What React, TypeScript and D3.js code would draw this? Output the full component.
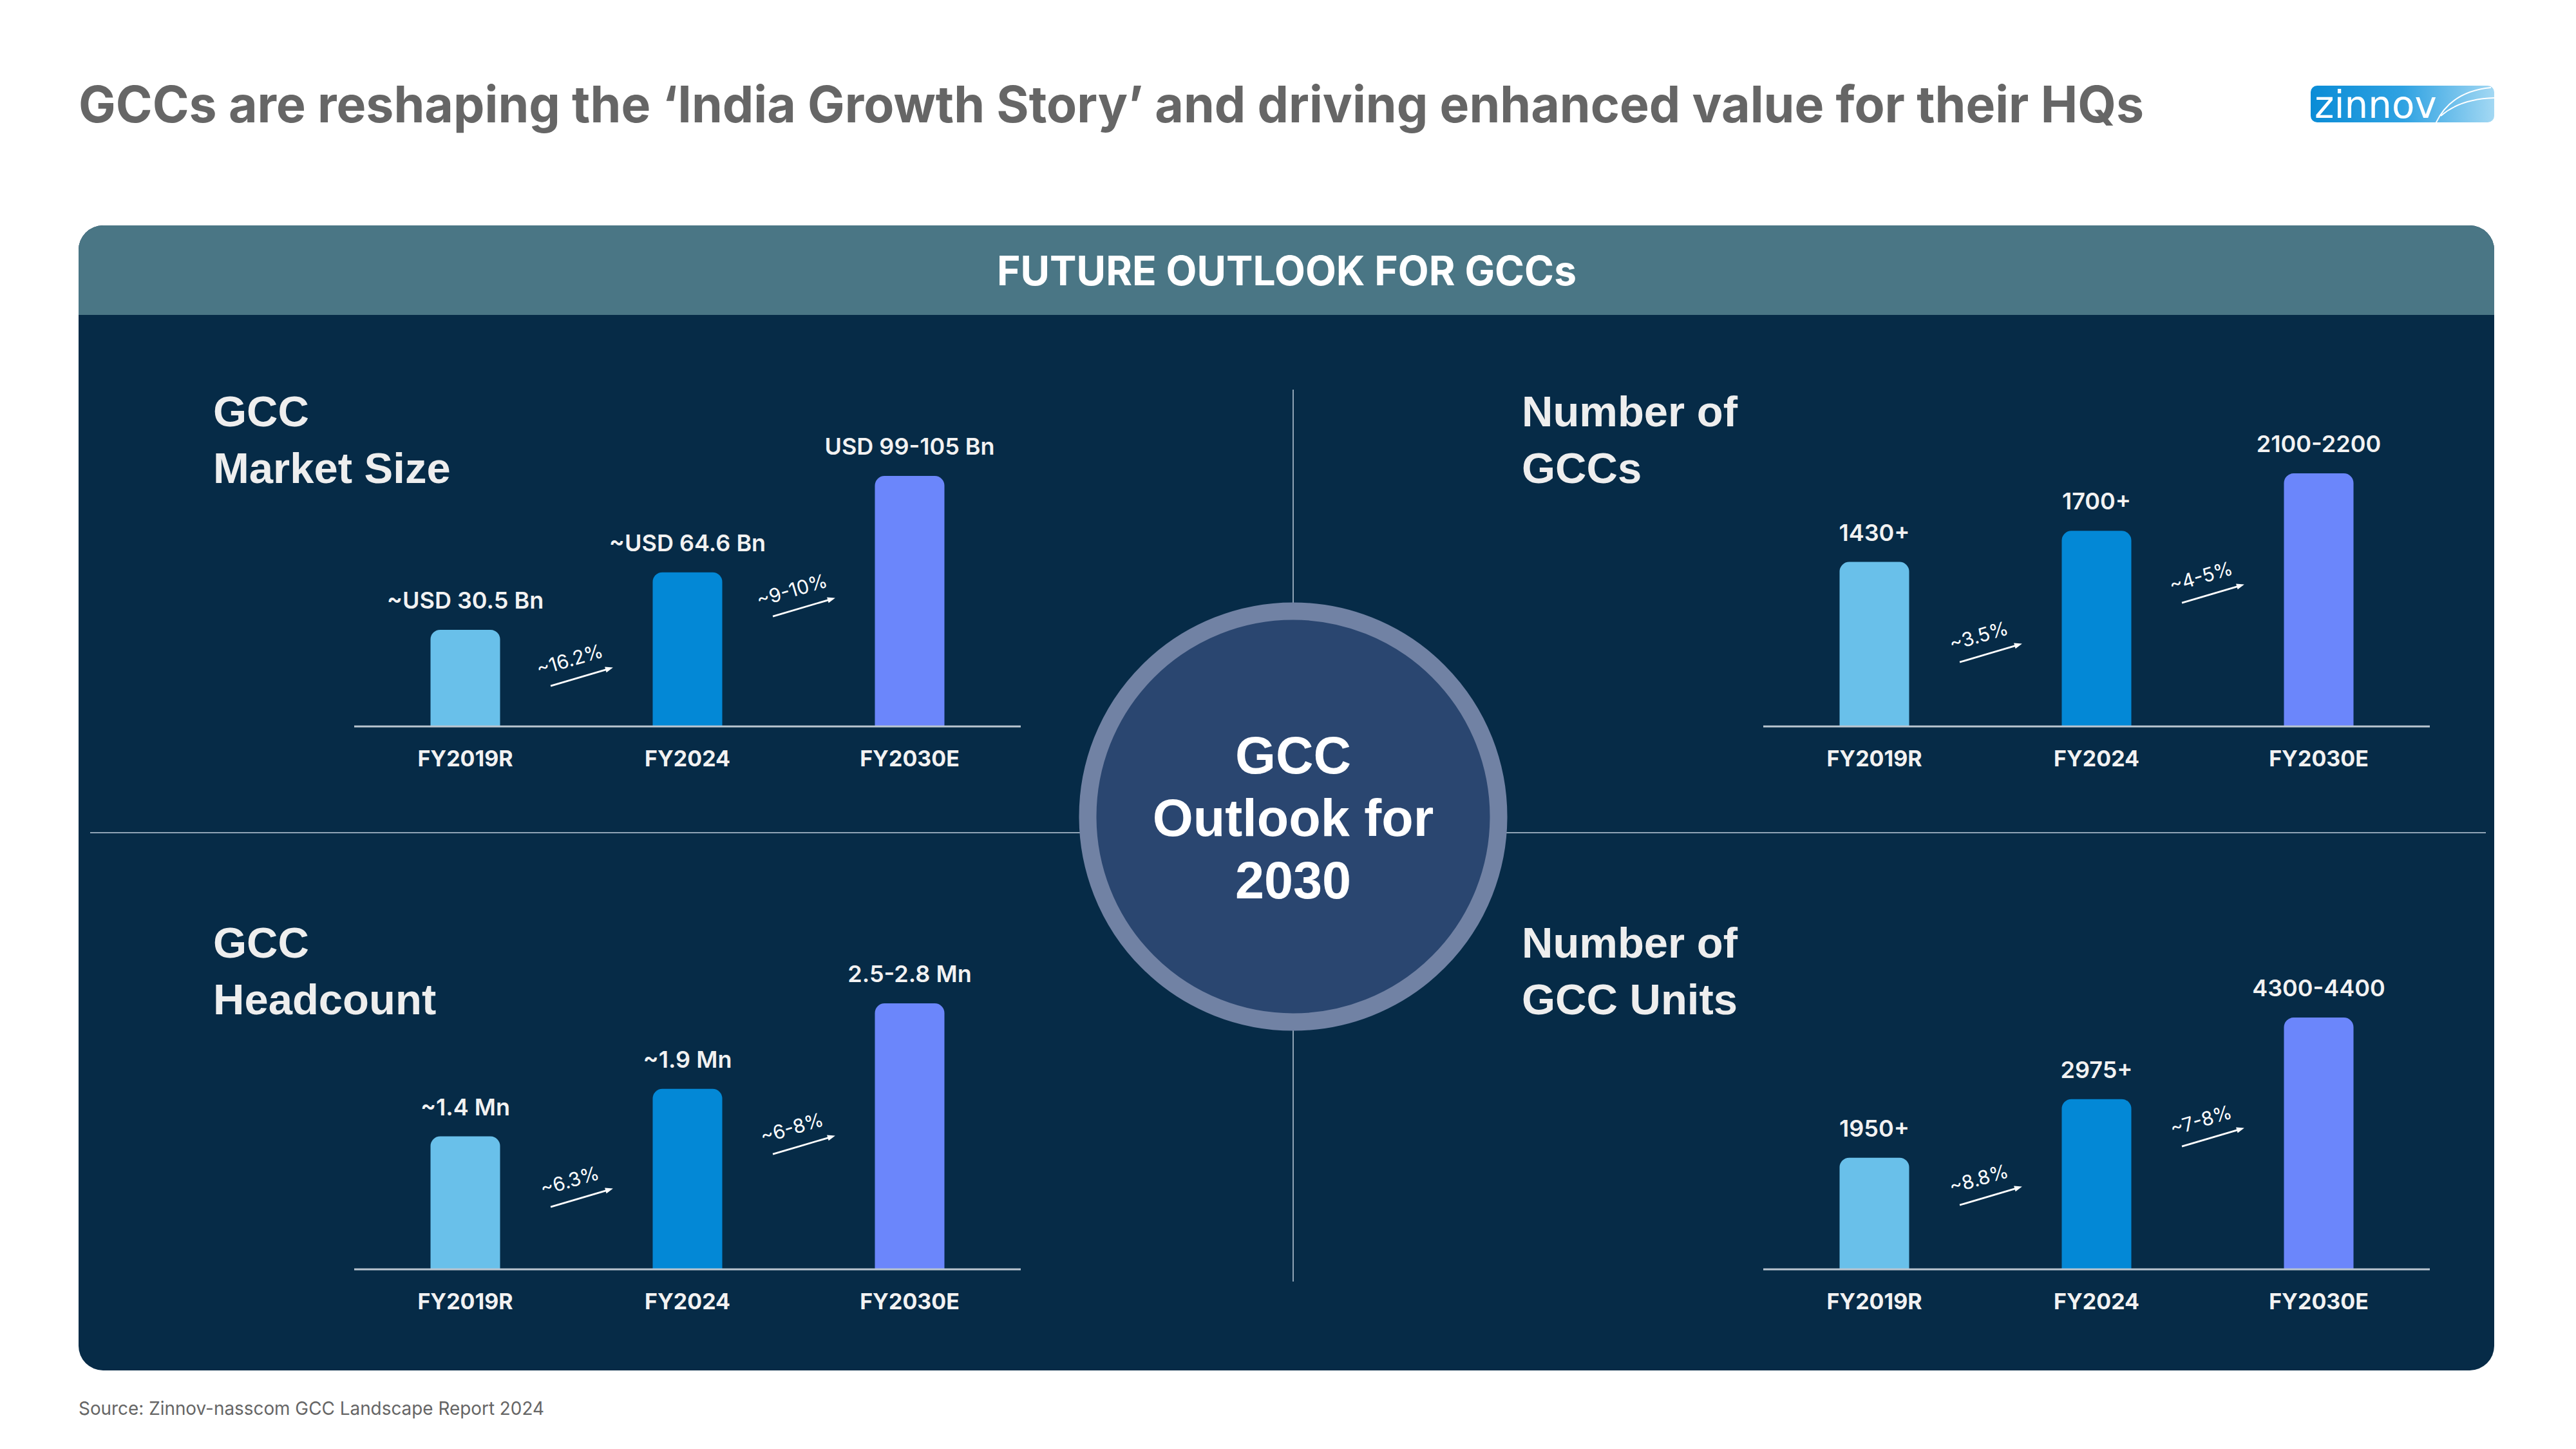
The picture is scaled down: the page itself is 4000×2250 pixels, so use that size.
import React from 'react';
import * as d3 from 'd3';

// ---------- data ----------
const years = ['FY2019R', 'FY2024', 'FY2030E'];

const marketSizeValues = [40.5, 64.6, 105];
const marketSizeLabels = ['~USD 30.5 Bn', '~USD 64.6 Bn', 'USD 99-105 Bn'];
const marketSizeGrowth = ['~16.2%', '~9-10%'];

const gccCountValues = [1430, 1700, 2200];
const gccCountLabels = ['1430+', '1700+', '2100-2200'];
const gccCountGrowth = ['~3.5%', '~4-5%'];

const headcountValues = [1.4, 1.9, 2.8];
const headcountLabels = ['~1.4 Mn', '~1.9 Mn', '2.5-2.8 Mn'];
const headcountGrowth = ['~6.3%', '~6-8%'];

const unitValues = [1950, 2975, 4400];
const unitLabels = ['1950+', '2975+', '4300-4400'];
const unitGrowth = ['~8.8%', '~7-8%'];

// ---------- style ----------
const barColors = ['#69C0EA', '#0388D6', '#6B86FB'];
const DARK = '#062B47';
const HEADER = '#4A7685';
const INTER = 'Inter, "Noto Sans", sans-serif';
const HELV = '"Liberation Sans", Arial, sans-serif';

const panels = [
  { title: ['GCC', 'Market Size'], values: marketSizeValues, labels: marketSizeLabels, growth: marketSizeGrowth,
    titleX: 331, titleY: 662, x0: 550, x1: 1585, baseY: 1128, maxH: 389, lift: [77, 185] },
  { title: ['Number of', 'GCCs'], values: gccCountValues, labels: gccCountLabels, growth: gccCountGrowth,
    titleX: 2363, titleY: 662, x0: 2738, x1: 3773, baseY: 1128, maxH: 393, lift: [114, 206] },
  { title: ['GCC', 'Headcount'], values: headcountValues, labels: headcountLabels, growth: headcountGrowth,
    titleX: 331, titleY: 1487, x0: 550, x1: 1585, baseY: 1971, maxH: 413, lift: [111, 193] },
  { title: ['Number of', 'GCC Units'], values: unitValues, labels: unitLabels, growth: unitGrowth,
    titleX: 2363, titleY: 1487, x0: 2738, x1: 3773, baseY: 1971, maxH: 391, lift: [114, 205] },
];

function topRoundedBar(x: number, y: number, w: number, h: number, r: number) {
  const p = d3.path();
  p.moveTo(x, y + h);
  p.lineTo(x, y + r);
  p.arcTo(x, y, x + r, y, r);
  p.lineTo(x + w - r, y);
  p.arcTo(x + w, y, x + w, y + r, r);
  p.lineTo(x + w, y + h);
  p.closePath();
  return p.toString();
}

function Panel({ cfg }: { cfg: typeof panels[number] }) {
  const xs = d3.scalePoint<string>().domain(years).range([cfg.x0, cfg.x1]).padding(0.5);
  const h = d3.scaleLinear().domain([0, d3.max(cfg.values) as number]).range([0, cfg.maxH]);
  const bw = 108;
  return (
    <g>
      {cfg.title.map((t, i) => (
        <text key={t} x={cfg.titleX} y={cfg.titleY + i * 88} fill="#EEEEEE" fontFamily={HELV}
          fontWeight={700} fontSize={67}>{t}</text>
      ))}
      {years.map((yr, i) => {
        const cx = xs(yr) as number;
        const bh = h(cfg.values[i]);
        const top = cfg.baseY - bh;
        return (
          <g key={yr}>
            <path d={topRoundedBar(cx - bw / 2, top, bw, bh, 15)} fill={barColors[i]} />
            <text x={cx} y={top - 33} textAnchor="middle" fill="#F2F2F2" fontFamily={INTER}
              fontWeight={600} fontSize={36}>{cfg.labels[i]}</text>
            <text x={cx} y={cfg.baseY + 62} textAnchor="middle" fill="#F2F2F2" fontFamily={INTER}
              fontWeight={700} fontSize={34}>{yr}</text>
          </g>
        );
      })}
      <line x1={cfg.x0} x2={cfg.x1} y1={cfg.baseY} y2={cfg.baseY} stroke="#B9C5D0" strokeWidth={3} />
      {cfg.growth.map((g, i) => {
        const a = xs(years[i]) as number;
        const b = xs(years[i + 1]) as number;
        const mx = (a + b) / 2 + 8;
        const my = cfg.baseY - cfg.lift[i];
        return (
          <g key={g} transform={`translate(${mx},${my}) rotate(-16.5)`}>
            <line x1={-50} x2={42} y1={0} y2={0} stroke="#FFFFFF" strokeWidth={2.8} />
            <polygon points="51,0 39,-4.5 39,4.5" fill="#FFFFFF" />
            <text x={-10} y={-20} textAnchor="middle" fill="#FFFFFF" fontFamily={INTER}
              fontWeight={400} fontSize={30}>{g}</text>
          </g>
        );
      })}
    </g>
  );
}

export default function App() {
  const cx = 2008;
  const cy = 1268;
  return (
    <svg width={4000} height={2250} viewBox="0 0 4000 2250"
      style={{ position: 'absolute', left: 0, top: 0, display: 'block', background: '#FFFFFF' }}>
      <defs>
        <linearGradient id="logoGrad" x1="0" x2="1" y1="0" y2="0">
          <stop offset="0" stopColor="#0A8CD6" />
          <stop offset="0.5" stopColor="#2FA2E2" />
          <stop offset="1" stopColor="#A3D8F3" />
        </linearGradient>
        <clipPath id="logoClip">
          <rect x={3588} y={133} width={285} height={57} rx={10} />
        </clipPath>
      </defs>
      <rect x={0} y={0} width={4000} height={2250} fill="#FFFFFF" />

      {/* Title */}
      <text x={122} y={190} fill="#666666" fontFamily={INTER} fontWeight={700} fontSize={78}
        textLength={3207} lengthAdjust="spacingAndGlyphs">
        GCCs are reshaping the ‘India Growth Story’ and driving enhanced value for their HQs
      </text>

      {/* Logo */}
      <g>
        <rect x={3588} y={133} width={285} height={57} rx={10} fill="url(#logoGrad)" />
        <g clipPath="url(#logoClip)" fill="none" stroke="#FFFFFF" strokeWidth={2}>
          <path d="M3782,192 Q3805,142 3868,136" />
          <path d="M3790,180 Q3822,152 3880,152" />
        </g>
        <text x={3594} y={183} fill="#FFFFFF" fontFamily='"DejaVu Sans", sans-serif' fontSize={58}>zinnov</text>
      </g>

      {/* Main panel */}
      <path d={(() => {
        const p = d3.path();
        const x = 122, y = 350, w = 3751, hh = 1778, r = 38;
        p.moveTo(x + r, y);
        p.lineTo(x + w - r, y);
        p.arcTo(x + w, y, x + w, y + r, r);
        p.lineTo(x + w, y + hh - r);
        p.arcTo(x + w, y + hh, x + w - r, y + hh, r);
        p.lineTo(x + r, y + hh);
        p.arcTo(x, y + hh, x, y + hh - r, r);
        p.lineTo(x, y + r);
        p.arcTo(x, y, x + r, y, r);
        p.closePath();
        return p.toString();
      })()} fill={DARK} />
      <path d={(() => {
        const p = d3.path();
        const x = 122, y = 350, w = 3751, hh = 139, r = 38;
        p.moveTo(x, y + hh);
        p.lineTo(x, y + r);
        p.arcTo(x, y, x + r, y, r);
        p.lineTo(x + w - r, y);
        p.arcTo(x + w, y, x + w, y + r, r);
        p.lineTo(x + w, y + hh);
        p.closePath();
        return p.toString();
      })()} fill={HEADER} />
      <text x={1998} y={443} textAnchor="middle" fill="#FFFFFF" fontFamily={INTER} fontWeight={700}
        fontSize={63} textLength={900} lengthAdjust="spacingAndGlyphs">FUTURE OUTLOOK FOR GCCs</text>

      {/* Dividers */}
      <line x1={cx} x2={cx} y1={605} y2={1990} stroke="#8FA3B5" strokeWidth={2} />
      <line x1={140} x2={3860} y1={1293} y2={1293} stroke="#8FA3B5" strokeWidth={2} />

      {panels.map((p) => <Panel key={p.title.join(' ')} cfg={p} />)}

      {/* Center circle */}
      <circle cx={cx} cy={cy} r={319} fill="#2A4670" stroke="#7182A4" strokeWidth={27} />
      {['GCC', 'Outlook for', '2030'].map((t, i) => (
        <text key={t} x={cx} y={1201 + i * 97} textAnchor="middle" fill="#FFFFFF" fontFamily={HELV}
          fontWeight={700} fontSize={81}>{t}</text>
      ))}

      {/* Source */}
      <text x={122} y={2197} fill="#666666" fontFamily={INTER} fontWeight={400} fontSize={29}
        textLength={723} lengthAdjust="spacingAndGlyphs">Source: Zinnov-nasscom GCC Landscape Report 2024</text>
    </svg>
  );
}
